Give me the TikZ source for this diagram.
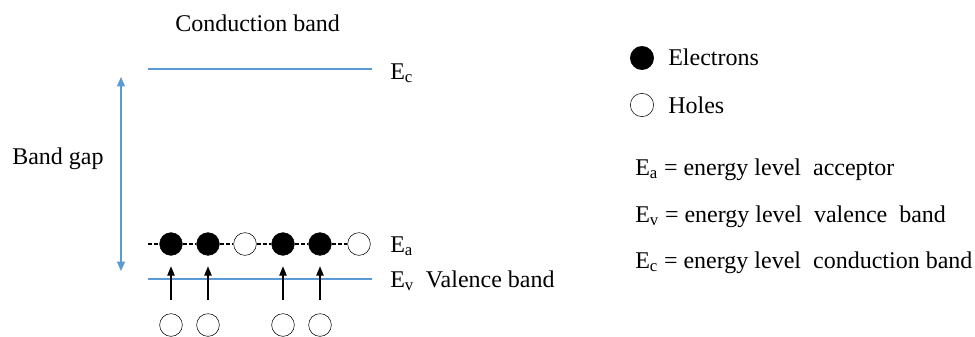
\documentclass[tikz,border=0pt]{standalone}
\usepackage{fontspec}
\setmainfont{Liberation Serif}
\usetikzlibrary{arrows.meta}
\definecolor{bandblue}{RGB}{91,155,213}

\begin{document}
\begin{tikzpicture}[x=0.75pt,y=-0.75pt,
    every node/.style={font=\fontsize{18}{22}\selectfont},
    txt/.style={anchor=base west, inner sep=0pt},
    elec/.style={circle,draw,fill=black,minimum size=17pt,inner sep=0pt},
    hole/.style={circle,draw,thin,fill=white,minimum size=17pt,inner sep=0pt},
    level/.style={color=bandblue,line width=0.9pt}]
    \useasboundingbox (0,0) rectangle (975,336);

    % conduction and valence band edges
    \node[txt] (cb) at (175,31) {Conduction band};
    \coordinate (ec0) at (148,69);
    \coordinate (ec1) at (372,69);
    \draw[level] (ec0) -- (ec1);
    \node[txt] (ec) at (390,79) {E\textsubscript{c}};

    \coordinate (ev0) at (148,279);
    \coordinate (ev1) at (372,279);
    \draw[level] (ev0) -- (ev1);
    \node[txt] (ev) at (390,287) {E\textsubscript{v}\ \ Valence band};

    % band gap
    \coordinate (gtop) at (121,77);
    \coordinate (gbot) at (121,271);
    \draw[level,{Triangle[length=7pt,width=6pt]}-{Triangle[length=7pt,width=6pt]}]
        (gtop) -- (gbot);
    \node[txt] (gap) at (12,164) {Band gap};

    % acceptor level
    \foreach \x/\k [count=\i] in {171/elec,208/elec,245/hole,283/elec,320/elec,359/hole}
        \node[\k] (a\i) at (\x,244) {};
    \coordinate (a0) at (148,244);
    \foreach \i/\j in {0/1,1/2,2/3,3/4,4/5,5/6}
        \draw[dash pattern=on 3pt off 1.5pt,line width=1.2pt] (a\i) -- (a\j);
    \node[txt] (ea) at (390,252) {E\textsubscript{a}};

    % holes left behind in the valence band
    \foreach \x/\i in {171/1,208/2,283/4,320/5} {
        \node[hole] (h\i) at (\x,325) {};
        \draw[-{Triangle[length=7pt,width=5.5pt]},line width=0.9pt,shorten <=10pt,shorten >=8pt]
            (h\i) -- (a\i);
    }

    % legend
    \node[elec,minimum size=17.5pt] (le) at (642,58) {};
    \node[txt] (let) at (668,65) {Electrons};
    \node[hole,minimum size=17.5pt] (lh) at (642,105) {};
    \node[txt] (lht) at (668,113) {Holes};

    \node[txt] (da) at (635,175) {E\textsubscript{a} = energy level\ \ acceptor};
    \node[txt] (dv) at (635,222) {E\textsubscript{v} = energy level\ \ valence\ \ band};
    \node[txt] (dc) at (635,268) {E\textsubscript{c} = energy level\ \ conduction band};
\end{tikzpicture}
\end{document}
